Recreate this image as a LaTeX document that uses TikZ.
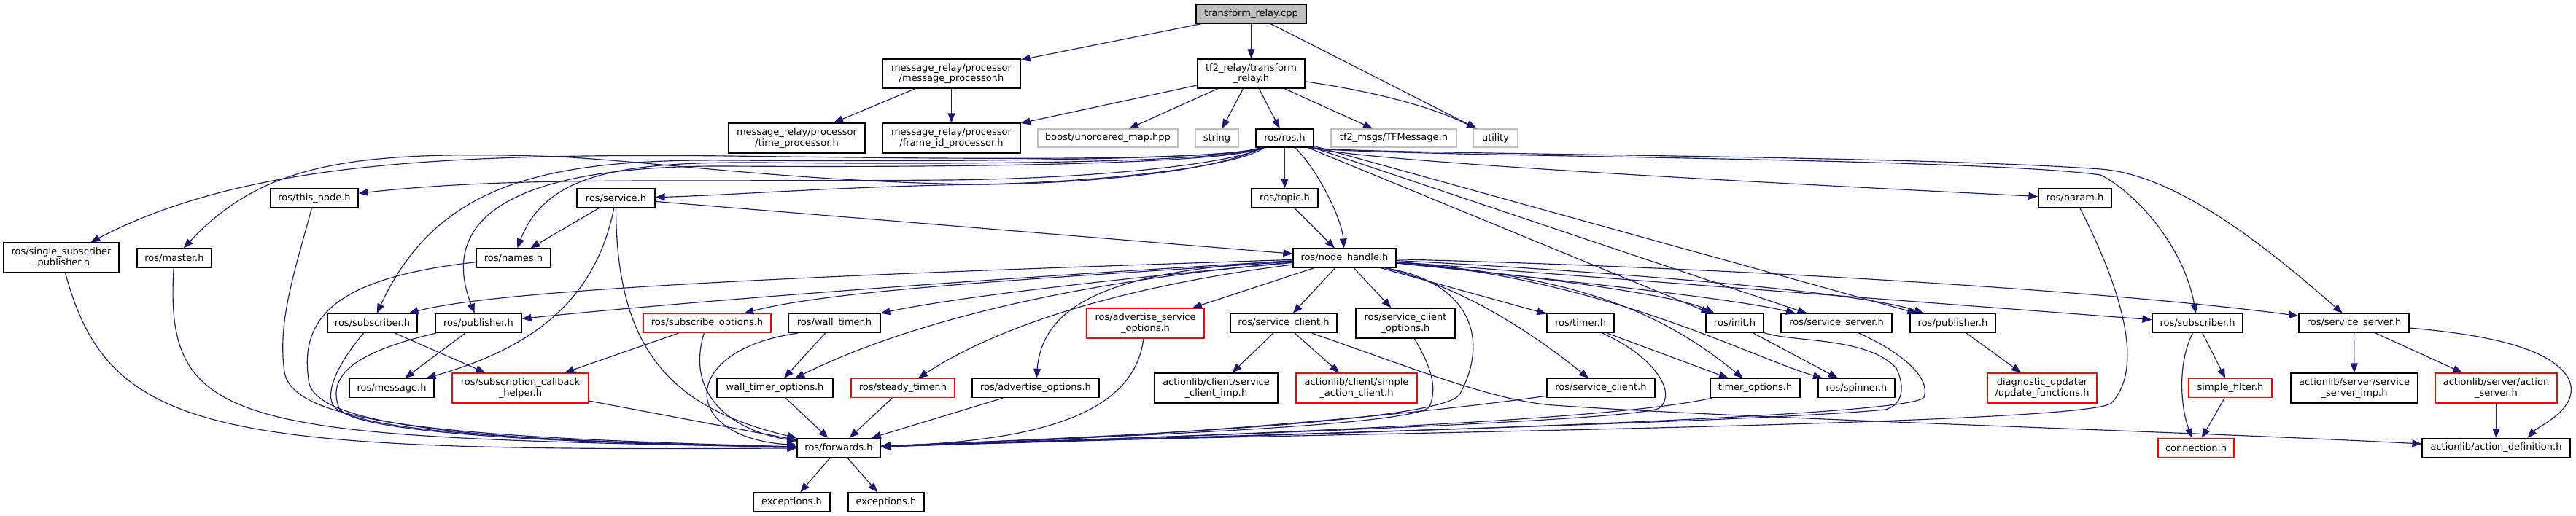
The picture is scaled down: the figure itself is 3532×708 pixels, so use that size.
\documentclass[tikz,border=0pt]{standalone}
\usepackage{fontspec}
\newfontfamily\dvs{DejaVu Sans}
\newcommand\dxf{\dvs\fontsize{13pt}{14.8pt}\selectfont}
\usetikzlibrary{arrows.meta}
\definecolor{edgec}{HTML}{191970}
\definecolor{grayb}{HTML}{BFBFBF}
\definecolor{redb}{HTML}{FF0000}
\begin{document}
\begin{tikzpicture}[x=1pt,y=-1pt,
 box/.style={draw=black,line width=1.25pt,fill=white,inner sep=0pt,align=center,font=\dxf},
 gbox/.style={box,draw=grayb},
 rbox/.style={box,draw=redb},
 sz/.style 2 args={minimum width=#1pt,minimum height=#2pt},
 edge/.style={draw=edgec,line width=1.15pt,-{Triangle[length=13pt,width=10pt]}}]
\fill[white] (0,0) rectangle (3532,708);
\useasboundingbox (0,0) rectangle (3532,708);

% ---------- nodes ----------
\node[box,fill=grayb,sz={151}{26}] (cpp) at (1715.5,19) {transform\_relay.cpp};
\node[box,sz={189}{40}] (mp) at (1304.5,101) {message\_relay/processor\\/message\_processor.h};
\node[box,sz={147}{40}] (tr) at (1715.5,101) {tf2\_relay/transform\\\_relay.h};
\node[box,sz={187}{41}] (tp) at (1092.5,189.5) {message\_relay/processor\\/time\_processor.h};
\node[box,sz={189}{41}] (fp) at (1304.5,189.5) {message\_relay/processor\\/frame\_id\_processor.h};
\node[gbox,sz={192}{25}] (boost) at (1519,189.5) {boost/unordered\_map.hpp};
\node[gbox,sz={59}{25}] (string) at (1668.5,189.5) {string};
\node[box,sz={79}{25}] (ros) at (1761.5,189.5) {ros/ros.h};
\node[gbox,sz={172}{25}] (tfm) at (1911,189.5) {tf2\_msgs/TFMessage.h};
\node[gbox,sz={61}{25}] (util) at (2050.5,189.5) {utility};

\node[box,sz={120}{26}] (thisnode) at (431,272) {ros/this\_node.h};
\node[box,sz={107}{26}] (service) at (844.5,272) {ros/service.h};
\node[box,sz={91}{26}] (topic) at (1761.5,272) {ros/topic.h};
\node[box,sz={100}{26}] (param) at (2845,272) {ros/param.h};

\node[box,sz={158}{41}] (ssp) at (84,353.5) {ros/single\_subscriber\\\_publisher.h};
\node[box,sz={102}{26}] (master) at (239,354) {ros/master.h};
\node[box,sz={102}{26}] (names) at (704,354) {ros/names.h};
\node[box,sz={141}{26}] (nh) at (1843.5,354) {ros/node\_handle.h};

\node[box,sz={123}{26}] (subL) at (510.5,443.5) {ros/subscriber.h};
\node[box,sz={118}{26}] (pubL) at (656,443.5) {ros/publisher.h};
\node[rbox,sz={175}{26}] (subopt) at (969.5,443.5) {ros/subscribe\_options.h};
\node[box,sz={126}{26}] (walltimer) at (1144,443.5) {ros/wall\_timer.h};
\node[rbox,sz={161}{41}] (advsrvopt) at (1570.5,443.5) {ros/advertise\_service\\\_options.h};
\node[box,sz={146}{26}] (scU) at (1760,443.5) {ros/service\_client.h};
\node[box,sz={136}{41}] (scopt) at (1927,443.5) {ros/service\_client\\\_options.h};
\node[box,sz={92}{26}] (timer) at (2167,443.5) {ros/timer.h};
\node[box,sz={79}{26}] (init) at (2378.5,443.5) {ros/init.h};
\node[box,sz={152}{26}] (ssM) at (2518,443.5) {ros/service\_server.h};
\node[box,sz={117}{26}] (pubR) at (2677.5,443.5) {ros/publisher.h};
\node[box,sz={124}{26}] (subR) at (3013,443.5) {ros/subscriber.h};
\node[box,sz={151}{26}] (ssR) at (3227.5,443.5) {ros/service\_server.h};

\node[box,sz={116}{26}] (msg) at (537,532.5) {ros/message.h};
\node[rbox,sz={187}{41}] (sch) at (713.5,532.5) {ros/subscription\_callback\\\_helper.h};
\node[box,sz={159}{26}] (wto) at (1062.5,532.5) {wall\_timer\_options.h};
\node[rbox,sz={142}{26}] (steady) at (1238,532.5) {ros/steady\_timer.h};
\node[box,sz={174}{26}] (advopt) at (1420,532.5) {ros/advertise\_options.h};
\node[box,sz={169}{41}] (scimp) at (1667.5,532.5) {actionlib/client/service\\\_client\_imp.h};
\node[rbox,sz={166}{41}] (sac) at (1860,532.5) {actionlib/client/simple\\\_action\_client.h};
\node[box,sz={148}{26}] (scL) at (2195,532.5) {ros/service\_client.h};
\node[box,sz={123}{26}] (topt) at (2406.5,532.5) {timer\_options.h};
\node[box,sz={105}{26}] (spinner) at (2545.5,532.5) {ros/spinner.h};
\node[rbox,sz={150}{41}] (diag) at (2800,532.5) {diagnostic\_updater\\/update\_functions.h};
\node[rbox,sz={114}{26}] (sf) at (3058,532.5) {simple\_filter.h};
\node[box,sz={174}{41}] (ssimp) at (3228,532.5) {actionlib/server/service\\\_server\_imp.h};
\node[rbox,sz={167}{41}] (asrv) at (3422.5,532.5) {actionlib/server/action\\\_server.h};

\node[box,sz={114}{26}] (fwd) at (1150,614.5) {ros/forwards.h};
\node[rbox,sz={104}{26}] (conn) at (3011,614.5) {connection.h};
\node[box,sz={203}{26}] (ad) at (3422.5,614.5) {actionlib/action\_definition.h};

\node[box,sz={105}{26}] (ex1) at (1085.5,689) {exceptions.h};
\node[box,sz={104}{26}] (ex2) at (1215,689) {exceptions.h};

% ---------- edges: top ----------
\draw[edge] (cpp) -- (mp);
\draw[edge] (cpp) -- (tr);
\draw[edge] (cpp) -- (util);
\draw[edge] (mp) -- (tp);
\draw[edge] (mp) -- (fp);
\draw[edge] (tr) -- (fp);
\draw[edge] (tr) -- (boost);
\draw[edge] (tr) -- (string);
\draw[edge] (tr) -- (ros);
\draw[edge] (tr) -- (tfm);
\draw[edge] (tr) .. controls (1880,125) and (1960,145) .. (util);

% ---------- edges: ros.h ----------
\draw[edge] (ros) -- (topic);
\draw[edge] ([xshift=14pt]ros.south) .. controls (1805,230) and (1840,300) .. (nh);
\draw[edge] ([xshift=6pt]ros.south west) .. controls (1680,222) and (1300,218) .. (1000,214) .. controls (600,210) and (330,225) .. (ssp);
\draw[edge] ([xshift=8pt]ros.south west) .. controls (1660,240) and (1450,253) .. (1343,253) .. controls (1100,250) and (900,222) .. (765,215) .. controls (480,205) and (360,225) .. (master);
\draw[edge] ([xshift=10pt]ros.south west) .. controls (1690,225) and (1500,245) .. (1300,247) .. controls (900,250) and (700,242) .. (thisnode);
\draw[edge] ([xshift=12pt]ros.south west) .. controls (1695,230) and (1500,250) .. (1343,253) .. controls (1150,256) and (1000,268) .. (service);
\draw[edge] ([xshift=7pt]ros.south west) .. controls (1680,224) and (1300,226) .. (1045,223) .. controls (860,222) and (750,235) .. (names);
\draw[edge] ([xshift=9pt]ros.south west) .. controls (1680,220) and (1300,222) .. (1000,220) .. controls (750,218) and (600,250) .. (subL);
\draw[edge] ([xshift=11pt]ros.south west) .. controls (1680,226) and (1300,230) .. (1000,228) .. controls (700,226) and (600,300) .. (pubL);
\draw[edge] ([xshift=-6pt]ros.south east) .. controls (1880,222) and (2400,250) .. (param);
\draw[edge] (ros) -- (init);
\draw[edge] (ros) -- (ssM);
\draw[edge] (ros) -- (pubR);
\draw[edge] ([xshift=-4pt]ros.south east) .. controls (1850,215) and (2700,215) .. (2880,240) .. controls (2930,265) and (2995,340) .. (subR);
\draw[edge] ([xshift=-2pt]ros.south east) .. controls (1850,212) and (2600,212) .. (2880,232) .. controls (2990,240) and (3120,350) .. (ssR);

% ---------- edges: service / topic ----------
\draw[edge] (topic) -- (nh);
\draw[edge] (service) -- (names);
\draw[edge] (service) -- (nh);
\draw[edge] (service) .. controls (815,420) and (720,480) .. (msg);
\draw[edge] (service) .. controls (845,480) and (920,560) .. (fwd);

% ---------- edges: node_handle.h ----------
\draw[edge] (nh) .. controls (1300,372) and (700,392) .. (subL);
\draw[edge] (nh) .. controls (1300,385) and (900,418) .. (pubL);
\draw[edge] (nh) .. controls (1500,378) and (1150,395) .. (subopt);
\draw[edge] (nh) .. controls (1500,385) and (1300,410) .. (walltimer);
\draw[edge] (nh) .. controls (1480,385) and (1250,440) .. (wto);
\draw[edge] (nh) .. controls (1560,390) and (1380,440) .. (steady);
\draw[edge] (nh) .. controls (1540,370) and (1430,410) .. (advopt);
\draw[edge] (nh) -- (advsrvopt);
\draw[edge] (nh) -- (scU);
\draw[edge] (nh) -- (scopt);
\draw[edge] (nh) -- (timer);
\draw[edge] (nh) .. controls (1990,390) and (2080,440) .. (scL);
\draw[edge] (nh) .. controls (2170,380) and (2280,430) .. (topt);
\draw[edge] (nh) .. controls (2100,378) and (2300,405) .. (init);
\draw[edge] (nh) .. controls (2200,382) and (2400,490) .. (spinner);
\draw[edge] (nh) .. controls (2150,385) and (2380,410) .. (ssM);
\draw[edge] (nh) .. controls (2200,372) and (2550,400) .. (pubR);
\draw[edge] (nh) -- (subR);
\draw[edge] (nh) .. controls (2400,368) and (2900,400) .. (ssR);
\draw[edge] ([xshift=55pt]nh.south) .. controls (2010,385) and (2045,460) .. (2002,540) .. controls (1985,580) and (1500,600) .. (fwd);

% ---------- edges: left part ----------
\draw[edge] (ssp) .. controls (150,600) and (300,620) .. (fwd);
\draw[edge] (master) .. controls (225,590) and (320,600) .. (fwd);
\draw[edge] (thisnode) .. controls (405,370) and (380,440) .. (390,510) .. controls (400,580) and (600,600) .. (fwd);
\draw[edge] (names) .. controls (470,380) and (410,430) .. (423,520) .. controls (425,585) and (650,605) .. (fwd);
\draw[edge] (subL) -- (sch);
\draw[edge] (subL) .. controls (470,490) and (440,540) .. (460,560) .. controls (500,590) and (700,605) .. (fwd);
\draw[edge] (pubL) -- (msg);
\draw[edge] (pubL) .. controls (500,480) and (445,510) .. (465,560) .. controls (480,590) and (700,607) .. (fwd);
\draw[edge] (sch) -- (fwd);
\draw[edge] (subopt) -- (sch);
\draw[edge] (subopt) .. controls (940,540) and (1000,590) .. (fwd);
\draw[edge] (walltimer) -- (wto);
\draw[edge] ([xshift=-50pt]walltimer.south) .. controls (930,480) and (930,600) .. (fwd);
\draw[edge] (wto) -- (fwd);
\draw[edge] (steady) -- (fwd);
\draw[edge] (advopt) -- (fwd);
\draw[edge] (advsrvopt) .. controls (1555,570) and (1420,605) .. (fwd);

% ---------- edges: middle / right ----------
\draw[edge] (scU) -- (scimp);
\draw[edge] (scU) -- (sac);
\draw[edge] (scU) .. controls (1950,510) and (2050,550) .. (2130,556) .. controls (2400,575) and (3000,592) .. (ad);
\draw[edge] (scopt) .. controls (1960,500) and (1972,530) .. (1960,558) .. controls (1940,585) and (1500,600) .. (fwd);
\draw[edge] (timer) -- (topt);
\draw[edge] (timer) .. controls (2270,490) and (2300,540) .. (2275,560) .. controls (2240,578) and (1600,600) .. (fwd);
\draw[edge] (scL) .. controls (1900,575) and (1500,605) .. (fwd);
\draw[edge] (topt) .. controls (2200,580) and (1600,600) .. (fwd);
\draw[edge] (init) -- (spinner);
\draw[edge] (init) .. controls (2460,470) and (2560,462) .. (2600,505) .. controls (2612,530) and (2610,555) .. (2585,562) .. controls (2400,580) and (1600,600) .. (fwd);
\draw[edge] (ssM) .. controls (2600,480) and (2648,515) .. (2638,545) .. controls (2625,575) and (1650,600) .. (fwd);
\draw[edge] (pubR) -- (diag);
\draw[edge] (param) .. controls (2900,380) and (2945,500) .. (2895,553) .. controls (2860,585) and (1700,595) .. (fwd);
\draw[edge] (subR) .. controls (2985,500) and (2990,560) .. (conn);
\draw[edge] (subR) -- (sf);
\draw[edge] (sf) -- (conn);
\draw[edge] (ssR) -- (ssimp);
\draw[edge] (ssR) -- (asrv);
\draw[edge] (ssR) .. controls (3420,460) and (3500,480) .. (3522,520) .. controls (3540,560) and (3480,585) .. ([xshift=43pt]ad.north);
\draw[edge] (asrv) -- (ad);
\draw[edge] (fwd) -- (ex1);
\draw[edge] (fwd) -- (ex2);
\end{tikzpicture}
\end{document}
